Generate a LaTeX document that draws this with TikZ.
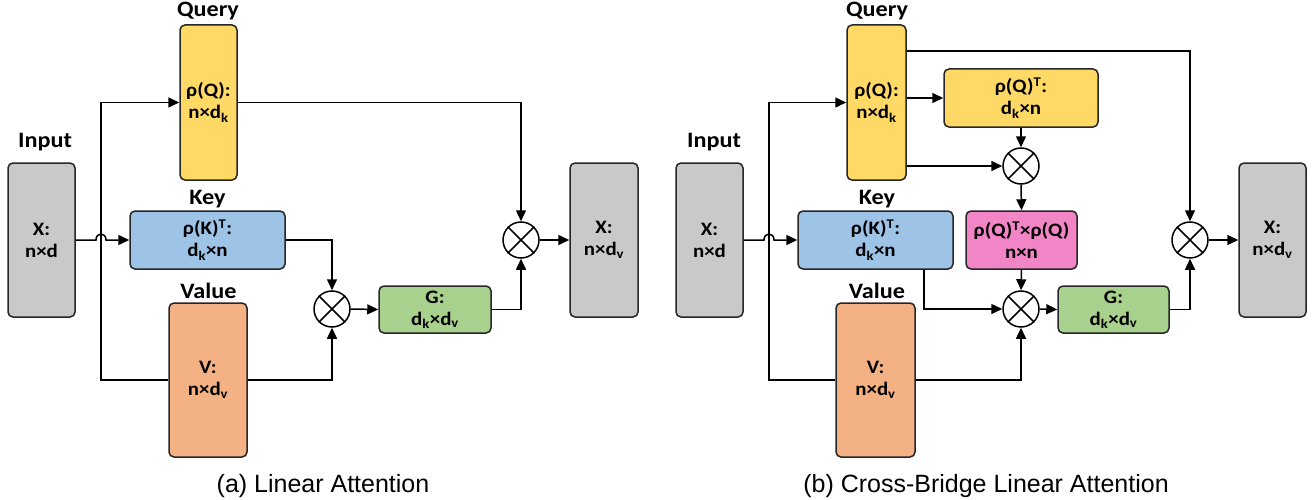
\documentclass[tikz,border=0pt]{standalone}
\usepackage{fontspec}
\setmainfont{Carlito}[FakeStretch=1.1]
\newfontfamily\capfont{Liberation Sans}
\usetikzlibrary{arrows.meta,calc}
\definecolor{cgray}{HTML}{C9C9C9}
\definecolor{cyel}{HTML}{FFD966}
\definecolor{cblue}{HTML}{9DC3E6}
\definecolor{corange}{HTML}{F4B183}
\definecolor{cgreen}{HTML}{A9D18E}
\definecolor{cpink}{HTML}{F285C6}
\definecolor{cline}{HTML}{262626}
\tikzset{
  bx/.style={draw=cline, line width=1.5pt, rounded corners=5pt, align=center,
    inner sep=0pt, font=\fontsize{19}{22}\selectfont\bfseries},
  lbl/.style={font=\fontsize{22}{24}\selectfont\bfseries, anchor=base},
  mul/.style={circle, draw=black, line width=1.5pt, minimum size=36pt, inner sep=0pt, fill=white},
  mulx/.style={line width=1.5pt},
  arr/.style={line width=1.5pt, -{Triangle[length=11pt,width=10pt]}},
  captxt/.style={font=\capfont\fontsize{25}{30}\selectfont, anchor=base}
}
\newcommand\mybox[7]{\node[bx,fill=#6,minimum width={(#4-#2)*1pt},minimum height={(#5-#3)*1pt}] (#1) at ({(#2+#4)/2},{(#3+#5)/2}) {#7};}
\newcommand\otnode[3]{\node[mul] (#1) at (#2,#3) {};
  \draw[mulx] (#1.north west)--(#1.south east) (#1.north east)--(#1.south west);}
\begin{document}
\begin{tikzpicture}[x=1pt,y=-1pt]
\useasboundingbox (0,0) rectangle (1313,500);
% ---------------- (a) ----------------
\mybox{inA}{8}{163}{75}{317}{cgray}{X:\\n×d}
\mybox{qA}{180}{25}{237}{180}{cyel}{ρ(Q):\\n×d\textsubscript{k}}
\mybox{kA}{130}{211}{285}{269}{cblue}{ρ(K)\textsuperscript{T}:\\d\textsubscript{k}×n}
\mybox{vA}{169}{303}{247}{457}{corange}{V:\\n×d\textsubscript{v}}
\mybox{gA}{379}{286}{491}{333}{cgreen}{G:\\d\textsubscript{k}×d\textsubscript{v}}
\mybox{oA}{570}{163}{638}{317}{cgray}{X:\\n×d\textsubscript{v}}
\otnode{m1}{332}{309}
\otnode{m2}{521}{240}
\node[lbl] (tinA) at (45,147) {Input};
\node[lbl] (tqA) at (208,17) {Query};
\node[lbl] (tkA) at (207.5,204) {Key};
\node[lbl] (tvA) at (208.5,298) {Value};
\coordinate (hA1) at (96,240);
\coordinate (hA2) at (106,240);
\coordinate (sA1) at (101,102.5);
\coordinate (sA2) at (101,380);
\draw[arr] (inA.east) -- (hA1) .. controls (96,232) and (106,232) .. (hA2) -- (kA.west);
\draw[arr] (vA.west) -- (sA2) -- (sA1) -- (qA.west);
\draw[arr] (qA.east) -| (m2.north);
\draw[arr] (kA.east) -| (m1.north);
\draw[arr] (vA.east) -| (m1.south);
\draw[arr] (m1.east) -- (gA.west);
\draw[arr] (gA.east) -| (m2.south);
\draw[arr] (m2.east) -- (oA.west);
\node[captxt] (capA) at (323,492) {(a) Linear Attention};
% ---------------- (b) ----------------
\mybox{inB}{676}{163}{743}{317}{cgray}{X:\\n×d}
\mybox{qB}{847}{25}{906}{180}{cyel}{ρ(Q):\\n×d\textsubscript{k}}
\mybox{qtB}{944}{69}{1098}{127}{cyel}{ρ(Q)\textsuperscript{T}:\\d\textsubscript{k}×n}
\mybox{kB}{798}{211}{953}{269}{cblue}{ρ(K)\textsuperscript{T}:\\d\textsubscript{k}×n}
\mybox{pB}{966}{211}{1077}{269}{cpink}{ρ(Q)\textsuperscript{T}×ρ(Q)\\n×n}
\mybox{vB}{836}{303}{915}{457}{corange}{V:\\n×d\textsubscript{v}}
\mybox{gB}{1058}{286}{1169}{333}{cgreen}{G:\\d\textsubscript{k}×d\textsubscript{v}}
\mybox{oB}{1239}{163}{1306}{317}{cgray}{X:\\n×d\textsubscript{v}}
\otnode{m3}{1021}{166}
\otnode{m4}{1021}{309}
\otnode{m5}{1190}{240}
\node[lbl] (tinB) at (714,147) {Input};
\node[lbl] (tqB) at (877,17) {Query};
\node[lbl] (tkB) at (877,204) {Key};
\node[lbl] (tvB) at (877,298) {Value};
\coordinate (hB1) at (764,240);
\coordinate (hB2) at (774,240);
\coordinate (sB1) at (769,102.5);
\coordinate (sB2) at (769,380);
\draw[arr] (inB.east) -- (hB1) .. controls (764,232) and (774,232) .. (hB2) -- (kB.west);
\draw[arr] (vB.west) -- (sB2) -- (sB1) -- (qB.west);
\draw[arr] ([yshift=51.5pt]qB.east) -| (m5.north);
\draw[arr] (qB.east |- qtB.west) -- (qtB.west);
\draw[arr] (qB.east |- m3.west) -- (m3.west);
\draw[arr] (qtB.south) -- (m3.north);
\draw[arr] (m3.south) -- (pB.north);
\draw[arr] (pB.south) -- (m4.north);
\draw[arr] ([xshift=48.5pt]kB.south) |- (m4.west);
\draw[arr] (vB.east) -| (m4.south);
\draw[arr] (m4.east) -- (gB.west);
\draw[arr] (gB.east) -| (m5.south);
\draw[arr] (m5.east) -- (oB.west);
\node[captxt] (capB) at (986,492) {(b) Cross-Bridge Linear Attention};
\end{tikzpicture}
\end{document}
